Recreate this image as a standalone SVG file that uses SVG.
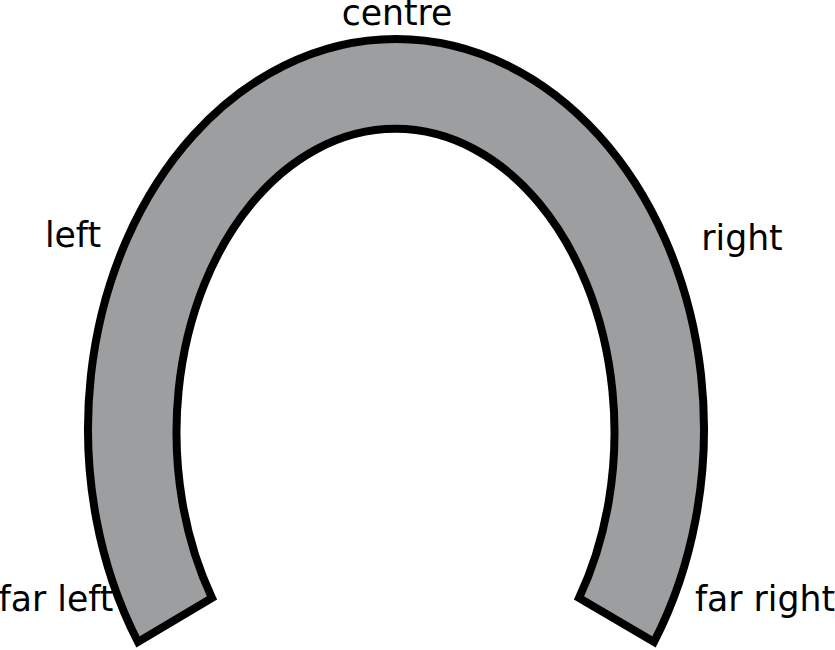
<svg xmlns="http://www.w3.org/2000/svg" width="835" height="650" viewBox="0 0 835 650">
  <style>
    .lbl { font-family: "DejaVu Sans", "Liberation Sans", sans-serif; font-size: 34.67px; fill: #000000; text-anchor: middle; }
    .shoe { fill: #9d9ea0; stroke: #000000; stroke-width: 8; stroke-linejoin: miter; }
  </style>
  <rect x="0" y="0" width="835" height="650" fill="#ffffff"/>
  <g id="horseshoe">
    <path class="shoe" d="M138,642 A308,390 0 1 1 654,642 L579,598 A219,303.5 0 1 0 212,598 Z"/>
  </g>
  <g id="labels">
    <text class="lbl" x="397" y="25">centre</text>
    <text class="lbl" x="73" y="247">left</text>
    <text class="lbl" x="742" y="250">right</text>
    <text class="lbl" x="56" y="611">far left</text>
    <text class="lbl" x="765" y="611">far right</text>
  </g>
</svg>
